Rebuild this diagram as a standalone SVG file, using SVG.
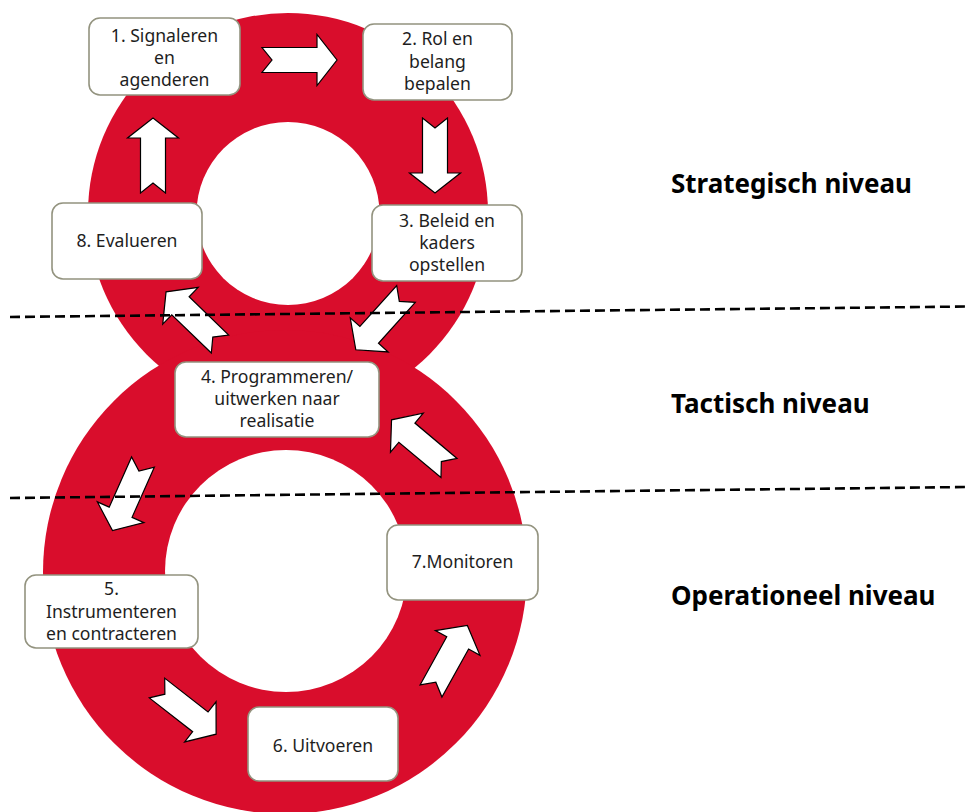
<svg xmlns="http://www.w3.org/2000/svg" width="968" height="812" viewBox="0 0 968 812">
<style>
.ring{fill:#D90D2C}
.hole{fill:#FFFFFF}
.box{fill:#FFFFFF;stroke:#93937F;stroke-width:1.6}
.t{font-family:"Noto Sans","Open Sans","DejaVu Sans",sans-serif;font-size:17.6px;fill:#1E1E1E;text-anchor:middle}
.lvl{font-family:"Noto Sans","Open Sans","DejaVu Sans",sans-serif;font-size:26px;font-weight:bold;fill:#000000}
.arrow{fill:#FFFFFF;stroke:#000000;stroke-width:1.2;stroke-linejoin:miter}
.dash{fill:none;stroke:#000000;stroke-width:2.6;stroke-dasharray:10 5}
</style>
<defs>
<path id="blk" d="M0,-12.5 L55,-12.5 L55,-25.5 L75,0 L55,25.5 L55,12.5 L0,12.5 L10,0 Z"/>
</defs>
<rect width="968" height="812" fill="#FFFFFF"/>
<g id="eight">
<circle class="ring" cx="288" cy="213" r="200"/>
<circle class="ring" cx="285" cy="572" r="242"/>
<circle class="hole" cx="288" cy="213.5" r="91.5"/>
<circle class="hole" cx="286" cy="571" r="121"/>
</g>
<g id="connectors">
<use href="#blk" class="arrow" transform="translate(262,60) rotate(0)"/>
<use href="#blk" class="arrow" transform="translate(435,118) rotate(90)"/>
<use href="#blk" class="arrow" transform="translate(406,294) rotate(132)"/>
<use href="#blk" class="arrow" transform="translate(220,344) rotate(224)"/>
<use href="#blk" class="arrow" transform="translate(143,462) rotate(114)"/>
<use href="#blk" class="arrow" transform="translate(157,688) rotate(38)"/>
<use href="#blk" class="arrow" transform="translate(431,691) rotate(-61)"/>
<use href="#blk" class="arrow" transform="translate(449,468) rotate(220)"/>
<use href="#blk" class="arrow" transform="translate(153,193) rotate(-90)"/>
</g>
<g id="n1">
<rect class="box" x="89" y="18" width="151" height="77" rx="11"/>
<text class="t" x="164.5" y="42">1. Signaleren</text>
<text class="t" x="164.5" y="64">en</text>
<text class="t" x="164.5" y="86">agenderen</text>
</g>
<g id="n2">
<rect class="box" x="363" y="24" width="149" height="76" rx="11"/>
<text class="t" x="437.5" y="45">2. Rol en</text>
<text class="t" x="437.5" y="67.5">belang</text>
<text class="t" x="437.5" y="90">bepalen</text>
</g>
<g id="n3">
<rect class="box" x="372" y="205" width="150" height="76" rx="11"/>
<text class="t" x="447" y="227">3. Beleid en</text>
<text class="t" x="447" y="249">kaders</text>
<text class="t" x="447" y="271">opstellen</text>
</g>
<g id="n4">
<rect class="box" x="175" y="362" width="204" height="75" rx="11"/>
<text class="t" x="277" y="383">4. Programmeren/</text>
<text class="t" x="277" y="405">uitwerken naar</text>
<text class="t" x="277" y="427">realisatie</text>
</g>
<g id="n5">
<rect class="box" x="25" y="575" width="173" height="73" rx="11"/>
<text class="t" x="111.5" y="595">5.</text>
<text class="t" x="111.5" y="618">Instrumenteren</text>
<text class="t" x="111.5" y="640">en contracteren</text>
</g>
<g id="n6">
<rect class="box" x="248" y="707" width="150" height="74" rx="11"/>
<text class="t" x="323" y="752">6. Uitvoeren</text>
</g>
<g id="n7">
<rect class="box" x="387" y="525" width="151" height="75" rx="11"/>
<text class="t" x="462.5" y="568">7.Monitoren</text>
</g>
<g id="n8">
<rect class="box" x="52" y="203" width="150" height="76" rx="11"/>
<text class="t" x="127" y="247">8. Evalueren</text>
</g>
<g id="levels">
<path class="dash" d="M10,317 L968,306.5"/>
<path class="dash" d="M10,498 L968,487"/>
<text class="lvl" x="671" y="193">Strategisch niveau</text>
<text class="lvl" x="671" y="413">Tactisch niveau</text>
<text class="lvl" x="671" y="605">Operationeel niveau</text>
</g>
</svg>
